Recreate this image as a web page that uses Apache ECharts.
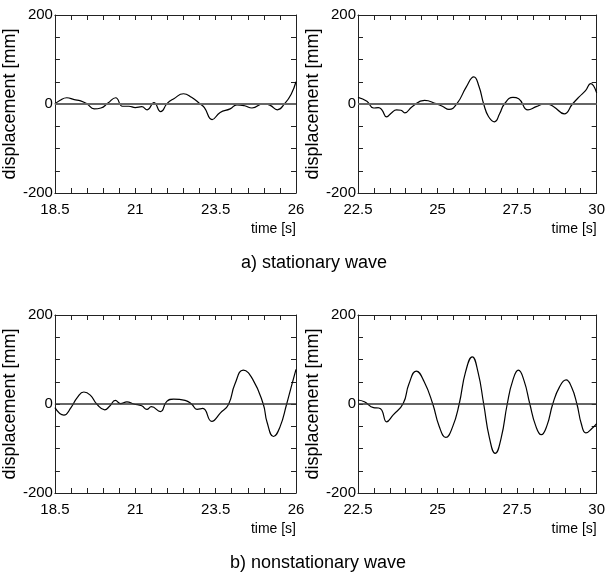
<!DOCTYPE html>
<html>
<head>
<meta charset="utf-8">
<script src="https://cdn.jsdelivr.net/npm/echarts@6/dist/echarts.min.js"></script>
<style>
html,body{margin:0;padding:0;background:#fff}
#chart{width:608px;height:580px}
</style>
</head>
<body>
<div id="chart"></div>
<script>
// a) stationary wave, left panel
var timeA1 = [18.5,18.65,18.87,19.1,19.3,19.5,19.72,19.93,20.15,20.39,20.6,20.8,21.0,21.2,21.37,21.58,21.79,22.0,22.2,22.5,22.75,23.02,23.15,23.39,23.64,23.95,24.16,24.4,24.63,24.99,25.2,25.42,25.66,25.85,26.0];
var dispA1 = [0,8,14,10,7,0,-11,-9,2,14,-5,-5,-8,-6,-13,3,-17,2,12,23,15,0,-8,-35,-19,-11,-2,-4,-9,1,-3,-13,2,22,50];
// a) stationary wave, right panel
var timeA2 = [22.5,22.78,22.99,23.14,23.25,23.4,23.55,23.71,23.85,23.97,24.2,24.59,24.95,25.15,25.36,25.62,25.9,26.14,26.3,26.45,26.6,26.79,26.95,27.1,27.37,27.55,27.84,28.1,28.4,28.65,28.98,29.24,29.45,29.65,29.81,30.0];
var dispA2 = [15,6,-9,-8,-13,-29,-20,-13,-14,-20,-6,8,1,-5,-12,2,38,61,40,0,-28,-40,-22,0,15,12,-13,-6,1,-6,-22,0,16,30,46,25];
// b) nonstationary wave, left panel
var timeB1 = [18.5,18.78,19.0,19.2,19.4,19.6,19.8,20.05,20.2,20.38,20.54,20.74,20.95,21.2,21.36,21.5,21.78,21.98,22.19,22.55,22.75,22.92,23.1,23.38,23.65,23.9,24.1,24.36,24.65,24.98,25.1,25.3,25.5,25.71,25.85,26.0];
var dispB1 = [-8,-25,-8,15,27,20,0,-13,-5,8,1,5,0,-4,-12,-6,-17,6,11,8,0,-12,-10,-39,-20,-1,45,76,56,0,-41,-73,-52,0,38,78];
// b) nonstationary wave, right panel
var timeB2 = [22.5,22.7,22.99,23.15,23.25,23.4,23.6,23.92,24.1,24.33,24.58,24.85,25.05,25.26,25.47,25.68,25.88,26.09,26.27,26.45,26.63,26.81,27.0,27.19,27.36,27.54,27.72,27.9,28.08,28.26,28.44,28.62,28.83,29.04,29.21,29.38,29.52,29.66,29.85,30.0];
var dispB2 = [9,5,-8,-9,-14,-40,-25,1,45,74,50,0,-50,-75,-52,0,72,106,72,0,-76,-111,-76,0,52,76,52,0,-48,-69,-48,0,38,54,38,0,-45,-65,-55,-44];

var xTicksL = [18.5,19,19.5,20,20.5,21,21.5,22,22.5,23,23.5,24,24.5,25,25.5,26];
var xTicksR = [22.5,23,23.5,24,24.5,25,25.5,26,26.5,27,27.5,28,28.5,29,29.5,30];
var xLabelsL = [18.5,21,23.5,26];
var xLabelsR = [22.5,25,27.5,30];
var yRange = [-200,200];
var panelTitles = ['a) stationary wave','b) nonstationary wave'];

var chart = echarts.init(document.getElementById('chart'));
var sans = '"Liberation Sans Narrow", "Liberation Sans", Arial, sans-serif';
var frame = '#222';

var panels = [
	{t: timeA1, d: dispA1, ticks: xTicksL, labels: xLabelsL, left: 54, top: 15, zero: '#666', zw: 2},
	{t: timeA2, d: dispA2, ticks: xTicksR, labels: xLabelsR, left: 358, top: 15, zero: '#666', zw: 2},
	{t: timeB1, d: dispB1, ticks: xTicksL, labels: xLabelsL, left: 54, top: 315, zero: '#333', zw: 1.5},
	{t: timeB2, d: dispB2, ticks: xTicksR, labels: xLabelsR, left: 358, top: 315, zero: '#333', zw: 1.5}
];

var grids = [], xAxes = [], yAxes = [], series = [];
for (var i = 0; i < panels.length; i++) {
	var p = panels[i];
	var xmin = p.labels[0], xmax = p.labels[p.labels.length - 1];
	grids.push({left: p.left, top: p.top, width: 242, height: 178});
	// bottom x axis
	xAxes.push({
		gridIndex: i, type: 'value', min: xmin, max: xmax, position: 'bottom',
		axisLine: {onZero: false, lineStyle: {color: frame, width: 1}},
		axisTick: {inside: true, length: 5, customValues: p.ticks, lineStyle: {color: frame}},
		axisLabel: {customValues: p.labels, margin: 9, color: '#000', fontFamily: sans, fontSize: 15},
		splitLine: {show: false},
		name: 'time [s]', nameLocation: 'end', nameGap: 0,
		nameTextStyle: {align: 'right', verticalAlign: 'top', padding: [29, 0, 0, 0], color: '#000', fontFamily: sans, fontSize: 14}
	});
	// top x axis (frame)
	xAxes.push({
		gridIndex: i, type: 'value', min: xmin, max: xmax, position: 'top',
		axisLine: {onZero: false, lineStyle: {color: frame, width: 1}},
		axisTick: {inside: true, length: 5, customValues: p.ticks, lineStyle: {color: frame}},
		axisLabel: {show: false},
		splitLine: {show: false}
	});
	// left y axis
	yAxes.push({
		gridIndex: i, type: 'value', min: yRange[0], max: yRange[1], interval: 200, position: 'left',
		axisLine: {show: true, onZero: false, lineStyle: {color: frame, width: 1}},
		axisTick: {show: true, inside: true, length: 5, lineStyle: {color: frame}},
		minorTick: {show: true, splitNumber: 4, length: 5, lineStyle: {color: frame}},
		axisLabel: {margin: 2, color: '#000', fontFamily: sans, fontSize: 15},
		splitLine: {show: false},
		name: 'displacement [mm]', nameLocation: 'middle', nameGap: 30,
		nameTextStyle: {color: '#000', fontFamily: sans, fontSize: 18}
	});
	// right y axis (frame)
	yAxes.push({
		gridIndex: i, type: 'value', min: yRange[0], max: yRange[1], interval: 200, position: 'right',
		axisLine: {show: true, onZero: false, lineStyle: {color: frame, width: 1}},
		axisTick: {show: true, inside: true, length: 5, lineStyle: {color: frame}},
		minorTick: {show: true, splitNumber: 4, length: 5, lineStyle: {color: frame}},
		axisLabel: {show: false},
		splitLine: {show: false}
	});
	var pts = [];
	for (var k = 0; k < p.t.length; k++) pts.push([p.t[k], p.d[k]]);
	series.push({
		type: 'line', xAxisIndex: 2 * i, yAxisIndex: 2 * i, data: pts,
		smooth: 0.5, showSymbol: false, symbol: 'none',
		lineStyle: {color: '#000', width: 1.2},
		markLine: {
			silent: true, symbol: 'none', label: {show: false},
			lineStyle: {color: p.zero, width: p.zw, type: 'solid'},
			data: [{yAxis: 0}]
		},
		z: 3
	});
}

chart.setOption({
	animation: false,
	backgroundColor: '#fff',
	grid: grids,
	xAxis: xAxes,
	yAxis: yAxes,
	series: series,
	graphic: [
		{type: 'text', x: 314, y: 263, style: {text: panelTitles[0], textAlign: 'center', textVerticalAlign: 'middle', align: 'center', verticalAlign: 'middle', font: '18px "Liberation Sans Narrow", "Liberation Sans", Arial, sans-serif', fill: '#000'}},
		{type: 'text', x: 318, y: 563, style: {text: panelTitles[1], textAlign: 'center', textVerticalAlign: 'middle', align: 'center', verticalAlign: 'middle', font: '18px "Liberation Sans Narrow", "Liberation Sans", Arial, sans-serif', fill: '#000'}}
	]
});
</script>
</body>
</html>
